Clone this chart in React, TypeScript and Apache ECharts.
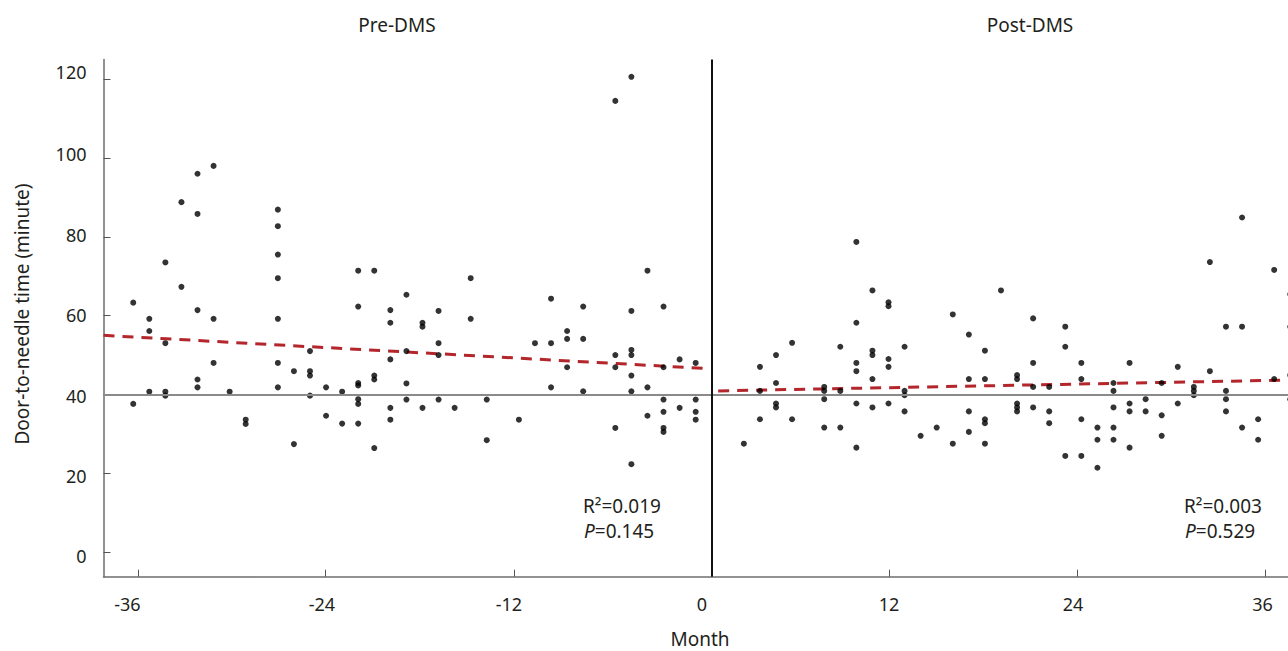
import React, { useEffect, useRef } from "react";
import * as echarts from "echarts";

// ---- Data (month relative to DMS start, door-to-needle minutes) ----
const prePoints: [number, number][] = [
  [-36, 63.3], [-36, 37.6],
  [-35, 59.2], [-35, 56.1], [-35, 40.7],
  [-34, 73.5], [-34, 53.0], [-34, 40.7], [-34, 39.7],
  [-33, 88.8], [-33, 67.3],
  [-32, 96.0], [-32, 85.8], [-32, 61.4], [-32, 43.8], [-32, 41.8],
  [-31, 98.0], [-31, 59.2], [-31, 48.0],
  [-30, 40.7],
  [-29, 33.6], [-29, 32.5],
  [-27, 86.9], [-27, 82.7], [-27, 75.5], [-27, 69.5], [-27, 59.2], [-27, 48.0], [-27, 41.8],
  [-26, 45.9], [-26, 27.4],
  [-25, 51.0], [-25, 45.9], [-25, 44.8], [-25, 39.7],
  [-24, 41.8], [-24, 34.6],
  [-23, 40.7], [-23, 32.6],
  [-22, 71.4], [-22, 62.3], [-22, 42.9], [-22, 42.3], [-22, 38.8], [-22, 37.6], [-22, 32.6],
  [-21, 71.4], [-21, 44.8], [-21, 43.8], [-21, 26.4],
  [-20, 61.4], [-20, 58.2], [-20, 48.9], [-20, 36.6], [-20, 33.6],
  [-19, 65.3], [-19, 51.0], [-19, 42.8], [-19, 38.7],
  [-18, 58.2], [-18, 57.2], [-18, 36.6],
  [-17, 61.2], [-17, 53.0], [-17, 50.0], [-17, 38.7],
  [-16, 36.6],
  [-15, 69.5], [-15, 59.2],
  [-14, 38.7], [-14, 28.4],
  [-12, 33.6],
  [-11, 53.0],
  [-10, 64.3], [-10, 53.0], [-10, 41.8],
  [-9, 56.1], [-9, 54.1], [-9, 46.9],
  [-8, 62.3], [-8, 54.1], [-8, 40.8],
  [-6, 114.5], [-6, 50.0], [-6, 46.9], [-6, 31.5],
  [-5, 120.6], [-5, 61.2], [-5, 51.3], [-5, 50.0], [-5, 44.8], [-5, 40.8], [-5, 22.3],
  [-4, 71.4], [-4, 41.8], [-4, 34.6],
  [-3, 62.3], [-3, 46.9], [-3, 38.7], [-3, 35.6], [-3, 31.5], [-3, 30.5],
  [-2, 48.9], [-2, 36.6],
  [-1, 48.0], [-1, 38.7], [-1, 35.6], [-1, 33.6],
];

const postPoints: [number, number][] = [
  [2, 27.5],
  [3, 47.0], [3, 40.9], [3, 33.7],
  [4, 50.0], [4, 42.9], [4, 37.7], [4, 36.7],
  [5, 53.1], [5, 33.7],
  [7, 41.9], [7, 40.9], [7, 38.8], [7, 31.6],
  [8, 52.1], [8, 40.9], [8, 31.6],
  [9, 78.7], [9, 58.2], [9, 48.0], [9, 45.9], [9, 37.7], [9, 26.5],
  [10, 66.4], [10, 51.1], [10, 50.0], [10, 43.9], [10, 36.7],
  [11, 63.4], [11, 62.4], [11, 49.0], [11, 47.0], [11, 37.7],
  [12, 52.1], [12, 40.9], [12, 39.8], [12, 35.7],
  [13, 29.5],
  [14, 31.6],
  [15, 60.3], [15, 27.5],
  [16, 55.2], [16, 43.9], [16, 35.7], [16, 30.5],
  [17, 51.1], [17, 43.9], [17, 33.7], [17, 32.7], [17, 27.5],
  [18, 66.4],
  [19, 44.9], [19, 43.9], [19, 37.7], [19, 36.7], [19, 35.7],
  [20, 59.3], [20, 48.0], [20, 41.9], [20, 36.7],
  [21, 41.9], [21, 35.7], [21, 32.7],
  [22, 57.2], [22, 52.1], [22, 24.4],
  [23, 48.0], [23, 43.9], [23, 33.7], [23, 24.4],
  [24, 31.6], [24, 28.5], [24, 21.4],
  [25, 42.9], [25, 40.9], [25, 36.7], [25, 31.6], [25, 28.5],
  [26, 48.0], [26, 37.7], [26, 35.7], [26, 26.5],
  [27, 38.8], [27, 35.7],
  [28, 42.9], [28, 34.7], [28, 29.5],
  [29, 47.0], [29, 37.7],
  [30, 41.9], [30, 40.9], [30, 39.8],
  [31, 73.6], [31, 45.9],
  [32, 57.2], [32, 40.9], [32, 38.8], [32, 35.7],
  [33, 84.9], [33, 57.2], [33, 31.6],
  [34, 33.7], [34, 28.5],
  [35, 71.6], [35, 43.9],
  [36, 65.4], [36, 57.2], [36, 44.9], [36, 38.8],
];

// regression trend lines (endpoints)
const preFit: [number, number][] = [[-37.85, 55.0], [-0.4, 46.6]];
const postFit: [number, number][] = [[0.4, 40.9], [35.86, 43.65]];

const referenceMinutes = 40;
const dmsStartMonth = 0;

const xTickLabels = [-36, -24, -12, 0, 12, 24, 36];
const yTickLabels = [0, 20, 40, 60, 80, 100, 120];

const preStats = ["0.019", "0.145"];
const postStats = ["0.003", "0.529"];

// ---- layout (positions of printed ticks/labels on the plotting scale) ----
const X_MIN = -37.85;
const X_MAX = 35.86;
const Y_MIN = -6.25;
const Y_MAX = 125;
const xLabelAt = [-36.36, -24.26, -12.62, -0.61, 11.03, 22.48, 34.27];
const xTickAt = [-35.66, -24.03, -12.31, 11.07, 22.77, 34.43];
const yLabelAt = [-1.1, 19.3, 39.7, 60.1, 80.5, 100.9, 121.8];

const FONT = '"Noto Sans", "Open Sans", sans-serif';
const TEXT = "#231f20";

function nearestLabel(v: number, at: number[], labels: number[]) {
  let best = 0;
  for (let i = 1; i < at.length; i++) {
    if (Math.abs(at[i] - v) < Math.abs(at[best] - v)) best = i;
  }
  return String(labels[best]);
}

export default function App() {
  const ref = useRef<HTMLDivElement>(null);

  useEffect(() => {
    if (!ref.current) return;
    const chart = echarts.init(ref.current, undefined, { renderer: "svg" });

    const statText = (x: number, y: number, r2: string, p: string) => [
      {
        type: "text",
        x,
        y,
        style: {
          text: "R²=" + r2,
          fontFamily: FONT,
          fontSize: 19,
          lineHeight: 21,
          fill: TEXT,
          align: "left",
          verticalAlign: "middle",
        },
      },
      {
        type: "text",
        x: x + 1,
        y: y + 25,
        style: {
          text: "{i|P}{n|=" + p + "}",
          rich: {
            i: { fontFamily: FONT, fontSize: 19, lineHeight: 21, fontStyle: "italic", fill: TEXT, color: TEXT },
            n: { fontFamily: FONT, fontSize: 19, lineHeight: 21, fill: TEXT, color: TEXT },
          },
          fontFamily: FONT,
          fontSize: 19,
          lineHeight: 21,
          fill: TEXT,
          align: "left",
          verticalAlign: "middle",
        },
      },
    ];

    const titleStyle = (text: string) => ({
      text,
      fontFamily: FONT,
      fontSize: 19,
      lineHeight: 20,
      fill: TEXT,
      align: "center",
      verticalAlign: "middle",
    });

    chart.setOption({
      animation: false,
      backgroundColor: "#ffffff",
      grid: {
        left: 103.5,
        right: 0,
        top: 59.5,
        bottom: 74.3,
        containLabel: false,
        outerBoundsMode: "none",
      },
      xAxis: {
        type: "value",
        min: X_MIN,
        max: X_MAX,
        axisLine: { show: true, onZero: false, lineStyle: { color: "#6e6e6e", width: 1.5 } },
        axisTick: {
          show: true,
          inside: true,
          length: 7,
          customValues: xTickAt,
          lineStyle: { color: "#555", width: 1 },
        },
        axisLabel: {
          customValues: xLabelAt,
          formatter: (v: number) => nearestLabel(v, xLabelAt, xTickLabels),
          margin: 18,
          fontSize: 18,
          fontFamily: FONT,
          color: TEXT,
        },
        splitLine: { show: false },
      },
      yAxis: {
        type: "value",
        min: Y_MIN,
        max: Y_MAX,
        axisLine: { show: true, onZero: false, lineStyle: { color: "#6e6e6e", width: 1.5 } },
        axisTick: {
          show: true,
          inside: true,
          length: 7,
          customValues: yTickLabels,
          lineStyle: { color: "#555", width: 1 },
        },
        axisLabel: {
          customValues: yLabelAt,
          formatter: (v: number) => nearestLabel(v, yLabelAt, yTickLabels),
          margin: 17,
          fontSize: 18,
          fontFamily: FONT,
          color: TEXT,
        },
        splitLine: { show: false },
      },
      graphic: [
        { type: "text", x: 397, y: 25, style: titleStyle("Pre-DMS") },
        { type: "text", x: 1030, y: 25, style: titleStyle("Post-DMS") },
        {
          type: "text",
          x: 22,
          y: 314,
          rotation: Math.PI / 2,
          style: titleStyle("Door-to-needle time (minute)"),
        },
        { type: "text", x: 700, y: 639, style: titleStyle("Month") },
        ...statText(583, 506, preStats[0], preStats[1]),
        ...statText(1184, 506, postStats[0], postStats[1]),
      ],
      series: [
        {
          type: "line",
          data: [],
          silent: true,
          z: 1,
          markLine: {
            silent: true,
            symbol: ["none", "none"],
            label: { show: false },
            data: [
              { yAxis: referenceMinutes, lineStyle: { color: "#8a8a8a", width: 1.8, type: "solid" } },
              { xAxis: dmsStartMonth, lineStyle: { color: "#111111", width: 2, type: "solid" } },
            ],
          },
        },
        {
          type: "line",
          data: preFit,
          symbol: "none",
          silent: true,
          z: 2,
          lineStyle: { color: "#b3262b", width: 3, type: [11, 8] },
        },
        {
          type: "line",
          data: postFit,
          symbol: "none",
          silent: true,
          z: 2,
          lineStyle: { color: "#b3262b", width: 3, type: [11, 8] },
        },
        {
          type: "scatter",
          data: prePoints,
          symbolSize: 6,
          clip: false,
          z: 3,
          itemStyle: { color: "#000000" },
        },
        {
          type: "scatter",
          data: postPoints,
          symbolSize: 6,
          clip: false,
          z: 3,
          itemStyle: { color: "#000000" },
        },
      ],
    });

    return () => chart.dispose();
  }, []);

  return (
    <div
      ref={ref}
      style={{ position: "fixed", left: 0, top: 0, width: 1288, height: 651, background: "#fff" }}
    />
  );
}
